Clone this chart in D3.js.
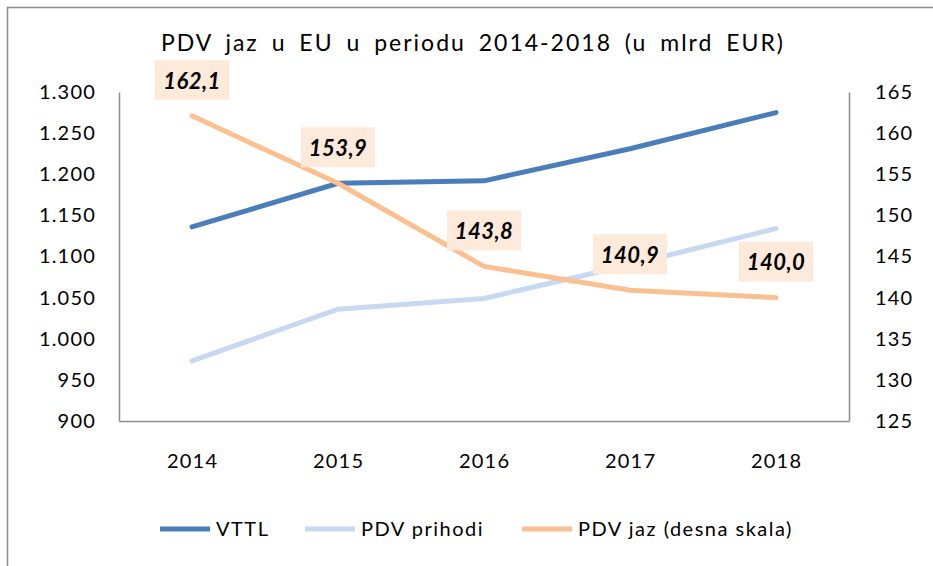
<!DOCTYPE html>
<html>
<head>
<meta charset="utf-8">
<script src="https://cdn.jsdelivr.net/npm/d3@7"></script>
<style>
  body { margin: 0; background: #fff; }
  text { font-family: Lato, "Liberation Sans", sans-serif; fill: #000; }
</style>
</head>
<body>
<svg id="chart" width="933" height="566"></svg>
<script>
const years     = ["2014", "2015", "2016", "2017", "2018"];
const vttl      = [1136, 1189, 1192, 1231, 1275];
const pdvPrihod = [973, 1036, 1049, 1090, 1134];
const pdvJaz    = [162.1, 153.9, 143.8, 140.9, 140.0];
const leftTicks  = [900, 950, 1000, 1050, 1100, 1150, 1200, 1250, 1300];
const rightTicks = [125, 130, 135, 140, 145, 150, 155, 160, 165];

const svg    = d3.select("#chart"),
      margin = {top: 92, right: 84, bottom: 145, left: 119},
      width  = +svg.attr("width")  - margin.left - margin.right,
      height = +svg.attr("height") - margin.top  - margin.bottom,
      x      = d3.scaleBand().domain(years).range([0, width]),
      yL     = d3.scaleLinear().domain([900, 1300]).range([height, 0]),
      yR     = d3.scaleLinear().domain([125, 165]).range([height, 0]),
      g      = svg.append("g")
                  .attr("transform", `translate(${margin.left},${margin.top})`);

const fmt = d3.formatLocale({decimal: ",", thousands: ".", grouping: [3], currency: ["", ""]});

// outer frame (cropped)
svg.append("path")
  .attr("d", "M7.5,566 V7.5 H933")
  .attr("fill", "none")
  .attr("stroke", "#8c8c8c")
  .attr("stroke-width", 1.5);

svg.append("text")
  .attr("x", 473)
  .attr("y", 51)
  .attr("text-anchor", "middle")
  .style("font-size", "23px")
  .style("letter-spacing", "2px")
  .style("word-spacing", "5px")
  .text("PDV jaz u EU u periodu 2014-2018 (u mlrd EUR)");

// axes
const axL = g.append("g")
  .call(d3.axisLeft(yL).tickValues(leftTicks).tickSize(0).tickPadding(23).tickFormat(fmt.format(",")));
const axR = g.append("g")
  .attr("transform", `translate(${width},0)`)
  .call(d3.axisRight(yR).tickValues(rightTicks).tickSize(0).tickPadding(26));
const axX = g.append("g")
  .attr("transform", `translate(0,${height})`)
  .call(d3.axisBottom(x).tickSize(0).tickPadding(33));

[axL, axR, axX].forEach(a => {
  a.select(".domain").attr("stroke", "#8c8c8c").attr("stroke-width", 1.5);
  a.selectAll("text")
    .style("font-size", "20px")
    .style("letter-spacing", "1.2px")
    .style("font-family", "Lato, sans-serif");
});
axX.selectAll("text").attr("dx", "0.6px");

const cx = d => x(d) + x.bandwidth() / 2;

const line = (scale, vals) => d3.line()
  .x((d, i) => cx(years[i]))
  .y(d => scale(d))(vals);

g.append("path")
  .attr("d", line(yL, vttl))
  .attr("fill", "none").attr("stroke", "#4a7ebb").attr("stroke-width", 5).attr("stroke-linecap", "round");

g.append("path")
  .attr("d", line(yL, pdvPrihod))
  .attr("fill", "none").attr("stroke", "#c6d9f1").attr("stroke-width", 5).attr("stroke-linecap", "round");

g.append("path")
  .attr("d", line(yR, pdvJaz))
  .attr("fill", "none").attr("stroke", "#fac090").attr("stroke-width", 5).attr("stroke-linecap", "round");

// data labels
const lab = g.selectAll(".lab")
  .data(pdvJaz)
  .enter().append("g")
    .attr("class", "lab")
    .attr("transform", (d, i) => `translate(${cx(years[i])},${yR(d) - 36})`);

lab.append("rect")
  .attr("x", -37).attr("y", -20)
  .attr("width", 74).attr("height", 40)
  .attr("fill", "#fdeada");

lab.append("text")
  .attr("text-anchor", "middle")
  .attr("dy", "0.4em")
  .style("font-size", "22px")
  .style("font-weight", "bold")
  .style("font-style", "italic")
  .style("letter-spacing", "0.5px")
  .text(d => fmt.format(".1f")(d));

// legend
const legend = [
  {name: "VTTL", color: "#4a7ebb", x: 160},
  {name: "PDV prihodi", color: "#c6d9f1", x: 305},
  {name: "PDV jaz (desna skala)", color: "#fac090", x: 522}
];

const lg = svg.selectAll(".leg")
  .data(legend)
  .enter().append("g")
    .attr("class", "leg")
    .attr("transform", d => `translate(${d.x},529)`);

lg.append("line")
  .attr("x1", 0).attr("x2", 50)
  .attr("stroke", d => d.color)
  .attr("stroke-width", 5);

lg.append("text")
  .attr("x", 56)
  .attr("dy", "0.35em")
  .style("font-size", "20px")
  .style("letter-spacing", "1.5px")
  .text(d => d.name);
</script>
</body>
</html>
